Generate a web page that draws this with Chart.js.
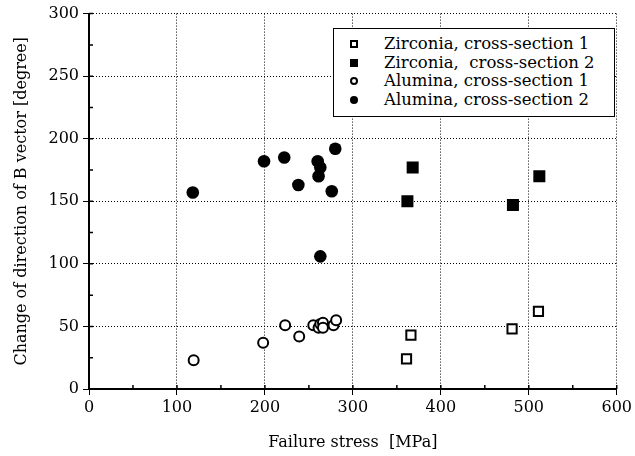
<!DOCTYPE html>
<html>
<head>
<meta charset="utf-8">
<script src="https://cdn.jsdelivr.net/npm/chart.js@4.4.1/dist/chart.umd.min.js"></script>
<style>
  html, body { margin: 0; padding: 0; background: #fff; }
  #wrap { position: relative; width: 635px; height: 456px; }
  #legend {
    position: absolute; left: 333px; top: 28px; width: 282px; height: 89px;
    border: 1.5px solid #000; box-sizing: border-box; background: #fff;
    font-family: "DejaVu Serif", serif; font-size: 16.5px; color: #000;
    padding-top: 6px;
  }
  #legend .row { height: 18.5px; line-height: 18.5px; position: relative; padding-left: 50px; white-space: pre; }
  #legend .mk { position: absolute; left: 16px; top: 5px; width: 8px; height: 8px; box-sizing: border-box; }
  .sq-open { border: 2px solid #000; background: #fff; }
  .sq-fill { background: #000; }
  .ci-open { border: 2px solid #000; border-radius: 50%; background: #fff; }
  .ci-fill { background: #000; border-radius: 50%; }
</style>
</head>
<body>
<div id="wrap">
  <canvas id="chart" width="635" height="456"></canvas>
  <div id="legend">
    <div class="row"><span class="mk sq-open"></span>Zirconia, cross-section 1</div>
    <div class="row"><span class="mk sq-fill"></span>Zirconia,  cross-section 2</div>
    <div class="row"><span class="mk ci-open"></span>Alumina, cross-section 1</div>
    <div class="row"><span class="mk ci-fill"></span>Alumina, cross-section 2</div>
  </div>
</div>
<script>
// données
const zirc1X = [361, 366, 481, 511];
const zirc1Y = [24, 43, 48, 62];
const zirc2X = [362, 368, 482, 512];
const zirc2Y = [150, 177, 147, 170];
const alu1X = [119, 198, 223, 239, 255, 261, 263, 266, 266, 278, 281];
const alu1Y = [23, 37, 51, 42, 51, 49, 52, 53, 49, 51, 55];
const alu2X = [118, 199, 222, 238, 260, 263, 261, 276, 280, 263];
const alu2Y = [157, 182, 185, 163, 182, 177, 170, 158, 192, 106];

const xTicks = [0, 100, 200, 300, 400, 500, 600];
const yTicks = [0, 50, 100, 150, 200, 250, 300];

const serif = '"DejaVu Serif", serif';
const pts = (xs, ys) => xs.map((x, i) => ({ x: x, y: ys[i] }));

// petites graduations vers l'intérieur
const minorTicks = {
  id: 'minorTicks',
  afterDraw(chart) {
    const ctx = chart.ctx, xs = chart.scales.x, ys = chart.scales.y;
    ctx.save();
    ctx.strokeStyle = '#000';
    ctx.lineWidth = 1.5;
    ctx.beginPath();
    for (let v = 0; v <= 600; v += 50) {
      const p = xs.getPixelForValue(v);
      ctx.moveTo(p, ys.bottom); ctx.lineTo(p, ys.bottom - 4);
    }
    for (let v = 0; v <= 300; v += 25) {
      const p = ys.getPixelForValue(v);
      ctx.moveTo(xs.left, p); ctx.lineTo(xs.left + 4, p);
    }
    ctx.stroke();
    ctx.restore();
  }
};

new Chart(document.getElementById('chart'), {
  type: 'scatter',
  data: {
    datasets: [
      { label: 'Zirconia, cross-section 1', data: pts(zirc1X, zirc1Y),
        pointStyle: 'rect', radius: 6.5, backgroundColor: '#fff', borderColor: '#000', borderWidth: 2 },
      { label: 'Zirconia,  cross-section 2', data: pts(zirc2X, zirc2Y),
        pointStyle: 'rect', radius: 8.5, backgroundColor: '#000', borderColor: '#000', borderWidth: 0 },
      { label: 'Alumina, cross-section 1', data: pts(alu1X, alu1Y),
        pointStyle: 'circle', radius: 5, backgroundColor: '#fff', borderColor: '#000', borderWidth: 2 },
      { label: 'Alumina, cross-section 2', data: pts(alu2X, alu2Y),
        pointStyle: 'circle', radius: 6.3, backgroundColor: '#000', borderColor: '#000', borderWidth: 0 }
    ]
  },
  options: {
    responsive: false,
    animation: false,
    layout: { padding: { top: 13, right: 14, left: 0, bottom: 0 } },
    plugins: { legend: { display: false }, tooltip: { enabled: false } },
    scales: {
      x: {
        min: 0, max: 600,
        afterBuildTicks: s => { s.ticks = xTicks.map(v => ({ value: v })); },
        afterFit: s => { s.height = 67; },
        ticks: { color: '#000', font: { family: serif, size: 16 }, padding: 3, maxRotation: 0 },
        grid: { color: '#000', lineWidth: 1, tickLength: 6, tickColor: '#000' },
        border: { color: '#000', width: 2, dash: [1, 2] },
        title: { display: true, text: 'Failure stress  [MPa]', color: '#000',
                 font: { family: serif, size: 16 }, padding: { top: 2 } }
      },
      y: {
        min: 0, max: 300,
        afterBuildTicks: s => { s.ticks = yTicks.map(v => ({ value: v })); },
        afterFit: s => { s.width = 89; },
        ticks: { color: '#000', font: { family: serif, size: 16 }, padding: 4 },
        grid: { color: '#000', lineWidth: 1, tickLength: 6, tickColor: '#000' },
        border: { color: '#000', width: 2, dash: [1, 2] },
        title: { display: true, text: 'Change of direction of B vector [degree]', color: '#000',
                 font: { family: serif, size: 16 }, padding: { top: 12, bottom: 0 } }
      }
    }
  },
  plugins: [minorTicks]
});
</script>
</body>
</html>
